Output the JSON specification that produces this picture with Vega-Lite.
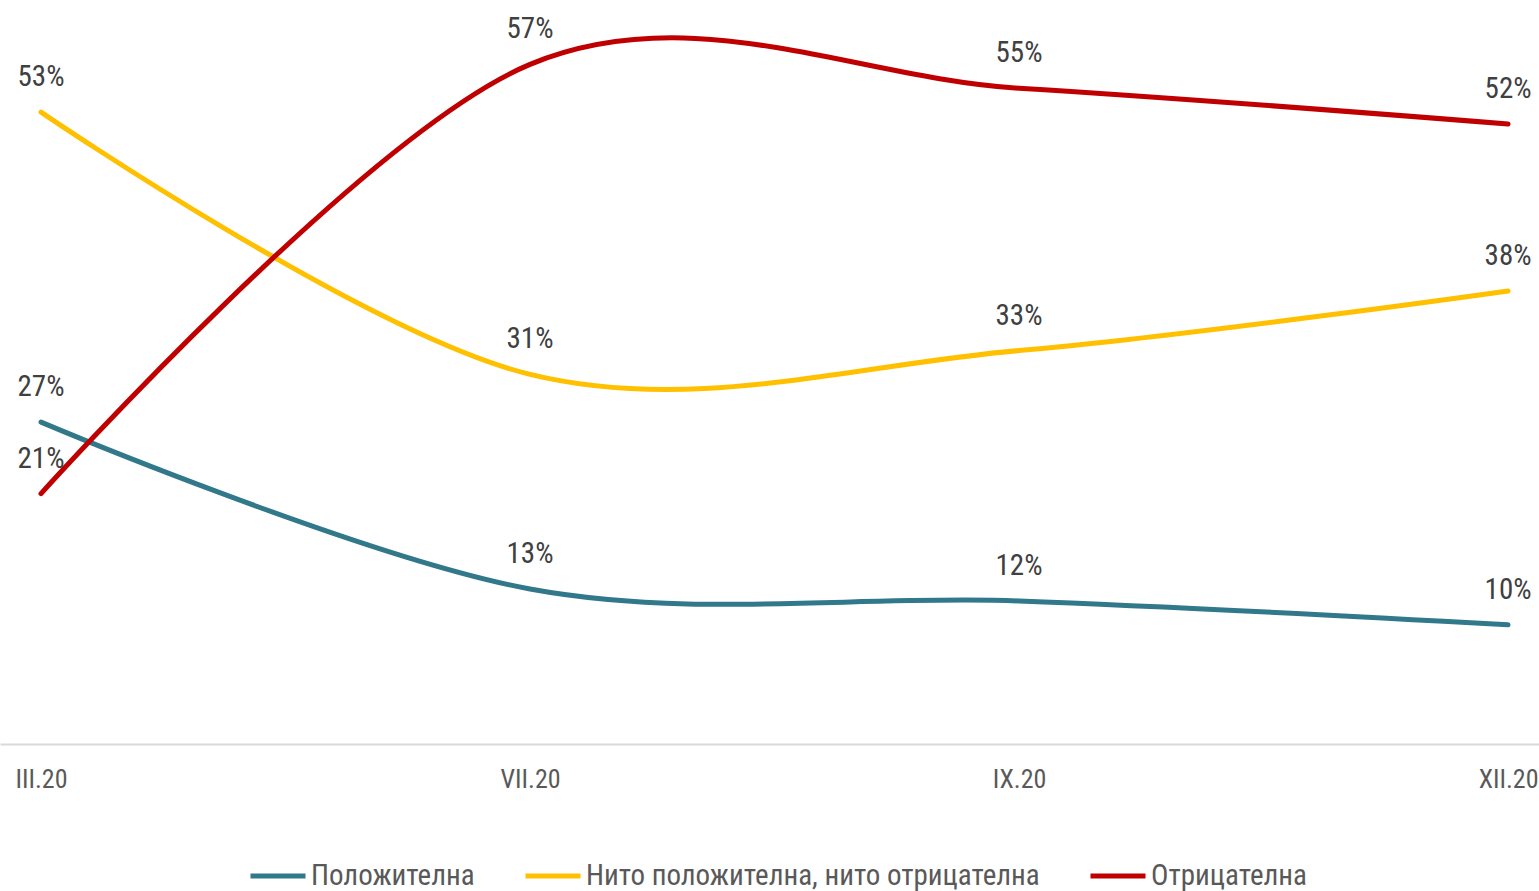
{
  "$schema": "https://vega.github.io/schema/vega-lite/v6.json",
  "width": 1539,
  "height": 744,
  "padding": 0,
  "background": "white",
  "config": {
    "view": {"stroke": null},
    "font": "Roboto Condensed, Liberation Sans Narrow, Roboto, sans-serif"
  },
  "data": {
    "values": [
      {"period": "III.20", "series": "Положителна", "value": 0.27},
      {"period": "VII.20", "series": "Положителна", "value": 0.13},
      {"period": "IX.20", "series": "Положителна", "value": 0.12},
      {"period": "XII.20", "series": "Положителна", "value": 0.10},
      {"period": "III.20", "series": "Нито положителна, нито отрицателна", "value": 0.53},
      {"period": "VII.20", "series": "Нито положителна, нито отрицателна", "value": 0.31},
      {"period": "IX.20", "series": "Нито положителна, нито отрицателна", "value": 0.33},
      {"period": "XII.20", "series": "Нито положителна, нито отрицателна", "value": 0.38},
      {"period": "III.20", "series": "Отрицателна", "value": 0.21},
      {"period": "VII.20", "series": "Отрицателна", "value": 0.57},
      {"period": "IX.20", "series": "Отрицателна", "value": 0.55},
      {"period": "XII.20", "series": "Отрицателна", "value": 0.52}
    ]
  },
  "encoding": {
    "x": {
      "field": "period",
      "type": "ordinal",
      "sort": ["III.20", "VII.20", "IX.20", "XII.20"],
      "scale": {"type": "point", "padding": 0.0736, "align": 0.57},
      "axis": {
        "title": null,
        "labelAngle": 0,
        "labelFontSize": 26,
        "labelColor": "#595959",
        "labelFont": "Roboto Condensed, Liberation Sans Narrow, Roboto, sans-serif",
        "labelPadding": 22,
        "ticks": false,
        "grid": false,
        "domainColor": "#D9D9D9",
        "domainWidth": 2
      }
    },
    "y": {
      "field": "value",
      "type": "quantitative",
      "scale": {"domain": [0, 0.624], "nice": false},
      "axis": null
    },
    "color": {
      "field": "series",
      "type": "nominal",
      "sort": ["Положителна", "Нито положителна, нито отрицателна", "Отрицателна"],
      "scale": {
        "domain": ["Положителна", "Нито положителна, нито отрицателна", "Отрицателна"],
        "range": ["#31788A", "#FFC000", "#C00000"]
      },
      "legend": {
        "title": null,
        "orient": "none",
        "legendX": 248,
        "legendY": 846,
        "direction": "horizontal",
        "symbolType": "stroke",
        "symbolSize": 3025,
        "symbolStrokeWidth": 5,
        "labelFontSize": 29,
        "labelColor": "#595959",
        "labelFont": "Roboto Condensed, Liberation Sans Narrow, Roboto, sans-serif",
        "labelLimit": 600,
        "labelOffset": 3,
        "columnPadding": 40
      }
    }
  },
  "layer": [
    {
      "mark": {"type": "line", "interpolate": "cardinal", "strokeWidth": 5, "strokeCap": "round"}
    },
    {
      "mark": {
        "type": "text",
        "dy": -35,
        "fontSize": 29,
        "font": "Roboto Condensed, Liberation Sans Narrow, Roboto, sans-serif"
      },
      "encoding": {
        "text": {"field": "value", "type": "quantitative", "format": ".0%"},
        "color": {"value": "#404040"}
      }
    }
  ]
}
